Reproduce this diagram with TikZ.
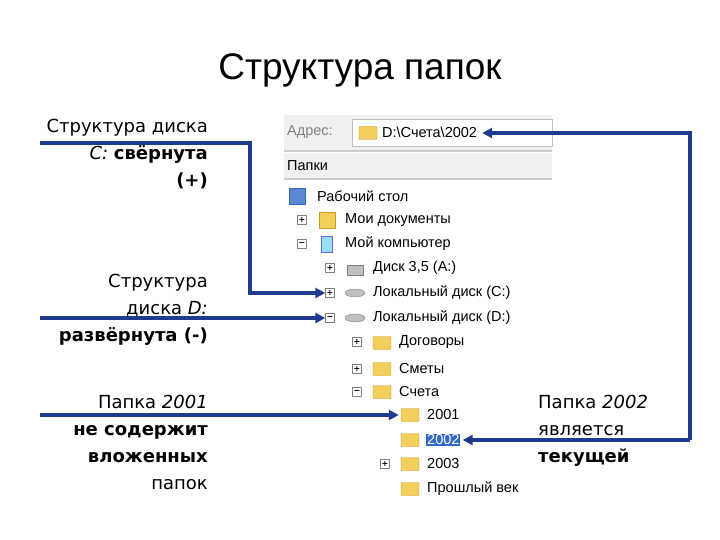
\documentclass[tikz,border=0pt]{standalone}
\usepackage{fontspec}
\setmainfont{DejaVu Sans}
\newfontfamily\titlefont{Liberation Sans}
\newfontfamily\winfont{Liberation Sans}
\usetikzlibrary{arrows.meta,shapes.geometric}
\definecolor{arr}{HTML}{1F3A8F}
\definecolor{fold}{HTML}{F2CE5C}
\definecolor{foldd}{HTML}{C79A2A}
\definecolor{sel}{HTML}{316AC5}
\tikzset{
  lab/.style={font=\fontsize{18}{27}\selectfont, align=right, inner sep=0pt, anchor=north east},
  labr/.style={font=\fontsize{18}{27}\selectfont, align=left, inner sep=0pt, anchor=north west},
  item/.style={font=\winfont\fontsize{14.5}{15}\selectfont, anchor=west, inner sep=1pt},
  con/.style={arr, line width=3.5pt, -{Triangle[length=10pt,width=10pt]}},
  pm/.style={draw=gray, fill=white, minimum size=9pt, inner sep=0pt, font=\fontsize{8}{8}\selectfont\bfseries},
  folder/.style={fill=fold, draw=foldd, rounded corners=1pt, minimum width=18pt, minimum height=13pt, inner sep=0pt}
}
\begin{document}
\begin{tikzpicture}[x=1pt,y=-1pt]
\useasboundingbox (0,0) rectangle (720,540);
\node[font=\titlefont\fontsize{37}{40}\selectfont] (title) at (360,70) {Структура папок};
% window
\fill[gray!12] (284,115) rectangle (552,150);
\fill[gray!12] (284,153) rectangle (552,178);
\draw[gray!40,line width=1.5pt] (284,151) -- (552,151);
\draw[gray!40,line width=1.5pt] (284,179) -- (552,179);
\draw[gray!50, fill=white] (352,119) rectangle (552,146);
\node[item, text=gray] (adrl) at (286,132) {Адрес:};
\node[folder] (af) at (368,133) {};
\node[item] (adr) at (381,132) {D:\textbackslash Счета\textbackslash 2002};
\node[item] (papki) at (286,166) {Папки};
% tree
\node[fill=sel!80, draw=sel, minimum size=16pt, inner sep=0pt] (i1) at (297,196) {};
\node[item] (t1) at (316,196) {Рабочий стол};
\node[pm] (p2) at (302,220) {+};
\node[fill=fold, draw=foldd, minimum size=16pt, inner sep=0pt] (i2) at (327,220) {};
\node[item] (t2) at (344,220) {Мои документы};
\node[pm] (p3) at (302,244) {−};
\node[fill=cyan!40, draw=blue!60, minimum width=11pt, minimum height=16pt, inner sep=0pt] (i3) at (327,244) {};
\node[item] (t3) at (344,244) {Мой компьютер};
\node[pm] (p4) at (330,268) {+};
\node[fill=gray!50, draw=gray, minimum width=16pt, minimum height=10pt, inner sep=0pt] (i4) at (355,270) {};
\node[item] (t4) at (372,268) {Диск 3,5 (A:)};
\node[pm] (p5) at (330,293) {+};
\node[ellipse, fill=gray!50, draw=gray, minimum width=20pt, minimum height=8pt, inner sep=0pt] (i5) at (355,293) {};
\node[item] (t5) at (372,293) {Локальный диск (C:)};
\node[pm] (p6) at (330,318) {−};
\node[ellipse, fill=gray!50, draw=gray, minimum width=20pt, minimum height=8pt, inner sep=0pt] (i6) at (355,318) {};
\node[item] (t6) at (372,318) {Локальный диск (D:)};
\node[pm] (p7) at (357,342) {+};
\node[folder] (i7) at (382,343) {};
\node[item] (t7) at (398,342) {Договоры};
\node[pm] (p8) at (357,369) {+};
\node[folder] (i8) at (382,369) {};
\node[item] (t8) at (398,369) {Сметы};
\node[pm] (p9) at (357,392) {−};
\node[folder] (i9) at (382,392) {};
\node[item] (t9) at (398,392) {Счета};
\node[folder] (i10) at (410,415) {};
\node[item] (t10) at (426,415) {2001};
\node[folder] (i11) at (410,440) {};
\node[item, fill=sel, text=white] (t11) at (426,440) {2002};
\node[pm] (p12) at (385,464) {+};
\node[folder] (i12) at (410,464) {};
\node[item] (t12) at (426,464) {2003};
\node[folder] (i13) at (410,489) {};
\node[item] (t13) at (426,489) {Прошлый век};
% labels
\node[lab] (L1) at (208,119) {Структура диска\\\textit{C:} \textbf{свёрнута}\\\textbf{(+)}};
\node[lab] (L2) at (208,274) {Структура\\диска \textit{D:}\\\textbf{развёрнута (-)}};
\node[lab] (L3) at (208,395) {Папка \textit{2001}\\\textbf{не содержит}\\\textbf{вложенных}\\папок};
\node[labr] (R1) at (538,395) {Папка \textit{2002}\\является\\\textbf{текущей}};
% connectors
\coordinate (c1) at (40,143);
\coordinate (c2) at (40,318);
\coordinate (c3) at (40,415);
\coordinate (c4) at (690,440);
\draw[con] (c1) -- (250,143) |- (p5.west);
\draw[con] (c2) -- (p6.west);
\draw[con] (c3) -- ([xshift=-2pt]i10.west);
\draw[con] (c4) -- ([xshift=2pt]t11.east);
\draw[con] (c4) |- ([xshift=4pt]adr.east |- 0,133);
\end{tikzpicture}
\end{document}
